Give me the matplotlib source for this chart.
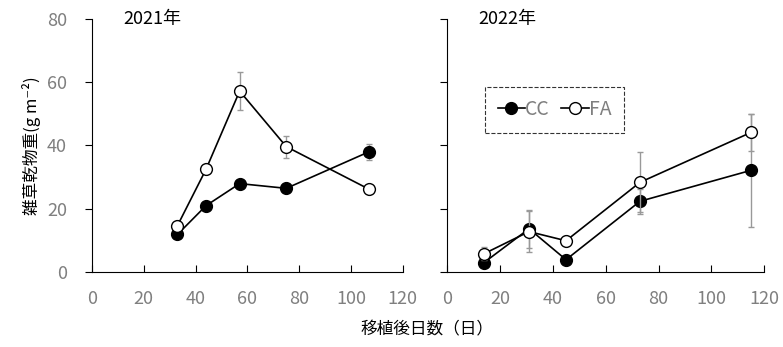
import numpy as np
import matplotlib.pyplot as plt
from matplotlib.lines import Line2D

plt.rcParams['font.family'] = ['Noto Sans CJK JP', 'DejaVu Sans']

# ---------------------------------------------------------------------------
# Data
# ---------------------------------------------------------------------------

days_2021 = [33, 44, 57, 75, 107]
cc_2021 = [11.8, 20.9, 27.9, 26.4, 38.0]
cc_2021_err = [0, 0, 0, 0, 2.5]
fa_2021 = [14.6, 32.4, 57.2, 39.6, 26.1]
fa_2021_err = [0, 0, 6.0, 3.5, 0]

days_2022 = [14, 31, 45, 73, 115]
cc_2022 = [2.9, 13.6, 3.8, 22.3, 32.1]
cc_2022_err = [0, 6.0, 0, 4.0, 18.0]
fa_2022 = [5.7, 12.7, 9.8, 28.3, 44.1]
fa_2022_err = [2.0, 6.5, 1.5, 9.5, 6.0]

xticks = [0, 20, 40, 60, 80, 100, 120]
yticks = [0, 20, 40, 60, 80]

GRAY = "#7f7f7f"
MS = 8.5


def draw_panel(ax, days, cc, cc_err, fa, fa_err, title, show_ylabels):
    ax.errorbar(days, cc, yerr=cc_err, color="black", ecolor="#999999",
                elinewidth=1, capsize=2.5, capthick=1, lw=1.2,
                marker="o", ms=MS, mfc="black", mec="black", zorder=3)
    ax.errorbar(days, fa, yerr=fa_err, color="black", ecolor="#999999",
                elinewidth=1, capsize=2.5, capthick=1, lw=1.2,
                marker="o", ms=MS, mfc="white", mec="black", zorder=4)
    ax.set_xlim(0, 120)
    ax.set_ylim(0, 80)
    ax.set_xticks(xticks)
    ax.set_yticks(yticks)
    ax.spines["top"].set_visible(False)
    ax.spines["right"].set_visible(False)
    ax.spines["left"].set_bounds(0, 80)
    ax.tick_params(axis="x", direction="in", length=5, colors="black",
                   labelcolor=GRAY, labelsize=13, pad=13)
    ax.tick_params(axis="y", direction="out", length=5, colors="black",
                   labelcolor=GRAY, labelsize=13, pad=13)
    if not show_ylabels:
        ax.tick_params(axis="y", labelleft=False)
    ax.text(0.1, 1.0, title, transform=ax.transAxes, fontsize=13,
            ha="left", va="center")


fig = plt.figure(figsize=(7.83, 3.47), dpi=100)
ax1 = fig.add_axes([0.1175, 0.217, 0.397, 0.728])
ax2 = fig.add_axes([0.571, 0.217, 0.405, 0.728])

draw_panel(ax1, days_2021, cc_2021, cc_2021_err, fa_2021, fa_2021_err,
           "2021年", True)
draw_panel(ax2, days_2022, cc_2022, cc_2022_err, fa_2022, fa_2022_err,
           "2022年", False)

ax1.set_ylabel("雑草乾物重(g m⁻²)", fontsize=12, labelpad=4)

handles = [
    Line2D([], [], color="black", lw=1.2, marker="o", ms=MS,
           mfc="black", mec="black"),
    Line2D([], [], color="black", lw=1.2, marker="o", ms=MS,
           mfc="white", mec="black"),
]
leg = ax2.legend(handles, ["CC", "FA"], loc="upper left",
                 bbox_to_anchor=(0.12, 0.733), borderaxespad=0.0, ncol=2,
                 frameon=True, fancybox=False, fontsize=14,
                 handlelength=1.4, handletextpad=0.0, columnspacing=0.6,
                 borderpad=0.65)
frame = leg.get_frame()
frame.set_edgecolor("black")
frame.set_linestyle("--")
frame.set_linewidth(0.8)
for t in leg.get_texts():
    t.set_color(GRAY)

fig.text(0.545, 0.048, "移植後日数（日）", fontsize=12, ha="center", va="center")

fig.savefig("out.png", dpi=100)
